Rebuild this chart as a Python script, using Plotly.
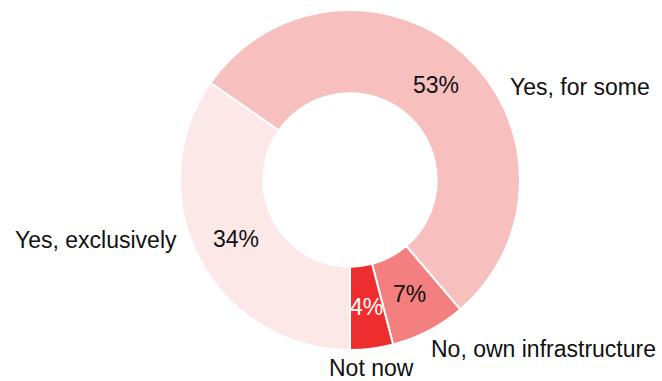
import math
import plotly.graph_objects as go

# Survey answers, in clockwise order starting at 6 o'clock
categories = ["Yes, exclusively", "Yes, for some", "No, own infrastructure", "Not now"]
shares = [34, 53, 7, 4]
colors = ["#fde8e8", "#f8bfbf", "#f47f7f", "#ee2e2e"]
pct_colors = ["#111111", "#111111", "#111111", "#ffffff"]

W, H = 662, 381
CX, CY, R = 350, 180, 170          # donut centre and outer radius in pixels
HOLE = 0.51
FONT = "Liberation Sans, Arial, sans-serif"
FS = 23

# outer label anchors (pixels) and alignment
label_layout = [
    dict(x=179, y=240, xanchor="right"),
    dict(x=508, y=87, xanchor="left"),
    dict(x=429, y=349, xanchor="left"),
    dict(x=371, y=368, xanchor="center"),
]


def px(x, y):
    return x / W, 1 - y / H


fig = go.Figure(go.Pie(
    labels=categories,
    values=shares,
    sort=False,
    direction="clockwise",
    rotation=180,
    hole=HOLE,
    marker=dict(colors=colors, line=dict(color="white", width=2)),
    textinfo="none",
    hoverinfo="label+value",
    showlegend=False,
    domain=dict(x=[(CX - R) / W, (CX + R) / W], y=[1 - (CY + R) / H, 1 - (CY - R) / H]),
))

annotations = []
total = sum(shares)
start = 180.0
r_mid = R * (1 + HOLE) / 2
for cat, v, tc, lab in zip(categories, shares, pct_colors, label_layout):
    sweep = 360.0 * v / total
    mid = math.radians(start + sweep / 2)
    start += sweep
    x = CX + r_mid * math.sin(mid)
    y = CY - r_mid * math.cos(mid)
    ax, ay = px(x, y)
    annotations.append(dict(
        x=ax, y=ay, xref="paper", yref="paper", text=f"{v}%", showarrow=False,
        xanchor="center", yanchor="middle", font=dict(family=FONT, size=FS, color=tc),
    ))
    lx, ly = px(lab["x"], lab["y"])
    annotations.append(dict(
        x=lx, y=ly, xref="paper", yref="paper", text=cat, showarrow=False,
        xanchor=lab["xanchor"], yanchor="middle", font=dict(family=FONT, size=FS, color="#111111"),
    ))

fig.update_layout(
    width=W, height=H,
    margin=dict(l=0, r=0, t=0, b=0),
    paper_bgcolor="white",
    plot_bgcolor="white",
    annotations=annotations,
)

fig.write_html("out.html")
